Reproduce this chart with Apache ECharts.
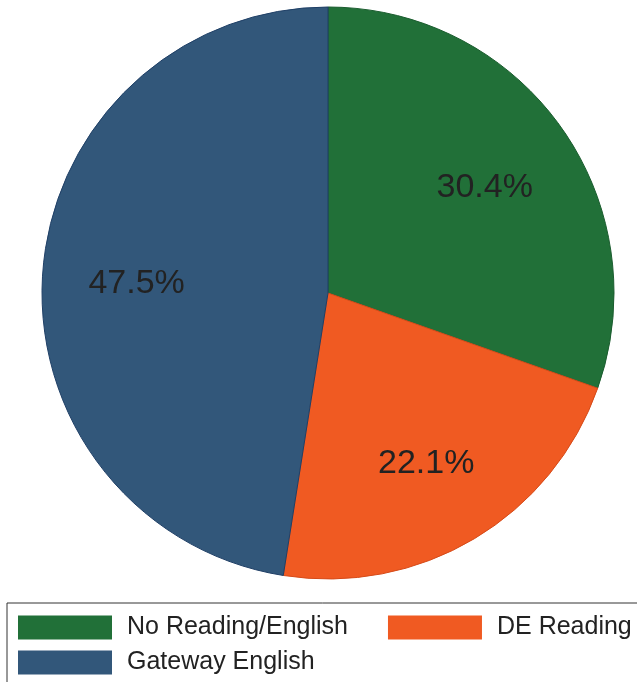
<!DOCTYPE html>
<html><head><meta charset="utf-8">
<script src="https://cdn.jsdelivr.net/npm/echarts@6/dist/echarts.min.js"></script>
<style>html,body{margin:0;padding:0;background:#fff}#c{width:637px;height:682px}</style>
</head><body><div id="c"></div>
<script>
const categories = ['No Reading/English', 'DE Reading', 'Gateway English'];
const values = [30.4, 22.1, 47.5];
const colors = ['#217038', '#F05A22', '#32577A'];
const edges = ['#1a5c2e', '#d54a18', '#1f3f66'];

const data = categories.map((n, i) => ({name: n, value: values[i],
  itemStyle: {color: colors[i], borderColor: edges[i], borderWidth: 1}}));
const labelData = categories.map((n, i) => ({name: n, value: values[i]}));

const legendText = {fontFamily: 'Liberation Sans', fontSize: 25, color: '#222', padding: [0, 0, 0, 10]};
const chart = echarts.init(document.getElementById('c'), null, {renderer: 'canvas'});
chart.setOption({
  animation: false,
  legend: [{
    data: categories.slice(0, 2),
    left: 7, top: 603, width: 800,
    orient: 'horizontal',
    itemWidth: 94, itemHeight: 24, itemGap: 40,
    padding: [12, 11, 50, 11],
    borderColor: '#333', borderWidth: 1,
    icon: 'rect',
    itemStyle: {borderWidth: 0},
    textStyle: legendText
  }, {
    data: categories.slice(2),
    left: 7, top: 638, width: 800,
    orient: 'horizontal',
    itemWidth: 94, itemHeight: 24,
    padding: [12, 11, 11, 11],
    icon: 'rect',
    itemStyle: {borderWidth: 0},
    textStyle: legendText
  }],
  series: [{
    type: 'pie',
    center: [328, 293], radius: [0, 286],
    startAngle: 90, clockwise: true,
    silent: true,
    label: {show: false}, labelLine: {show: false},
    data: data
  }, {
    type: 'pie',
    center: [328, 293], radius: [92, 286],
    startAngle: 90, clockwise: true,
    silent: true,
    itemStyle: {color: 'rgba(0,0,0,0)', borderWidth: 0},
    label: {show: true, position: 'inside', formatter: p => p.value.toFixed(1) + '%',
      fontFamily: 'Liberation Sans', fontSize: 34, color: '#222', offset: [0, 6]},
    labelLine: {show: false},
    data: labelData
  }]
});
</script></body></html>
